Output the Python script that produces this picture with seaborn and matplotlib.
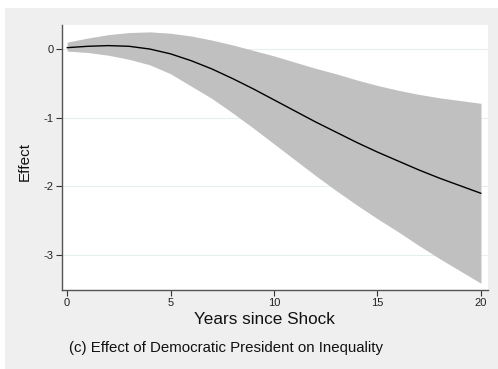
import matplotlib
matplotlib.use("Agg")
import matplotlib.pyplot as plt
from matplotlib.patches import Rectangle
import numpy as np
import pandas as pd
import seaborn as sns

# Impulse response of inequality to a Democratic president
years = list(range(0, 21))
effect = [0.02, 0.04, 0.05, 0.04, 0.00, -0.07, -0.17, -0.29, -0.43, -0.58, -0.74,
          -0.90, -1.06, -1.21, -1.36, -1.50, -1.63, -1.76, -1.88, -1.99, -2.10]
upper = [0.10, 0.16, 0.21, 0.24, 0.25, 0.23, 0.19, 0.13, 0.06, -0.02, -0.10,
         -0.19, -0.28, -0.36, -0.45, -0.53, -0.60, -0.66, -0.71, -0.75, -0.79]
lower = [-0.03, -0.05, -0.09, -0.15, -0.23, -0.36, -0.54, -0.72, -0.93, -1.15, -1.38,
         -1.61, -1.84, -2.06, -2.27, -2.47, -2.66, -2.86, -3.05, -3.23, -3.41]
x_ticks = [0, 5, 10, 15, 20]
y_ticks = [0, -1, -2, -3]

df = pd.DataFrame({"year": years, "effect": effect, "upper": upper, "lower": lower})

sns.set_theme(style="white")
plt.rcParams["font.family"] = ["Liberation Sans", "DejaVu Sans"]

W, H = 498, 369
fig = plt.figure(figsize=(W / 100, H / 100), dpi=100)
fig.patch.set_facecolor("white")
fig.add_artist(Rectangle((5 / W, 0), 1 - 5 / W, (H - 8) / H, transform=fig.transFigure,
                         facecolor="#efefef", edgecolor="none", zorder=0))

ax = fig.add_axes([61.7 / W, 1 - 289.5 / H, (488 - 61.7) / W, (289.5 - 25) / H])
ax.set_facecolor("white")

for yv in y_ticks:
    ax.axhline(yv, color="#e6eef0", lw=0.8, zorder=0)

ax.fill_between(df["year"], df["lower"], df["upper"], color="#c0c0c0", lw=0, zorder=1)
sns.lineplot(data=df, x="year", y="effect", color="black", lw=1.0, ax=ax, zorder=2)

ax.set_xlim(-0.26, 20.34)
ax.set_ylim(-3.5, 0.35)
ax.set_xticks(x_ticks)
ax.set_yticks(y_ticks)
ax.set_xticklabels([str(v) for v in x_ticks])
ax.set_yticklabels([str(v) for v in y_ticks])
ax.tick_params(axis="both", direction="out", length=4, width=0.8, color="#333333",
               labelsize=8, labelcolor="#222222", pad=2, left=True, bottom=True)

for side in ["top", "right"]:
    ax.spines[side].set_visible(False)
for side in ["left", "bottom"]:
    ax.spines[side].set_color("#555555")
    ax.spines[side].set_linewidth(1.0)

ax.set_xlabel("")
ax.set_ylabel("")
fig.text(264 / W, 1 - 320 / H, "Years since Shock", ha="center", va="center",
         fontsize=12.3, color="#111111")
fig.text(25 / W, 1 - 162 / H, "Effect", ha="center", va="center", rotation=90,
         fontsize=11, color="#111111")
fig.text(69 / W, 1 - 348 / H, "(c) Effect of Democratic President on Inequality",
         ha="left", va="center", fontsize=10.8, color="#111111")

fig.savefig("out.png", dpi=100, facecolor=fig.get_facecolor())
